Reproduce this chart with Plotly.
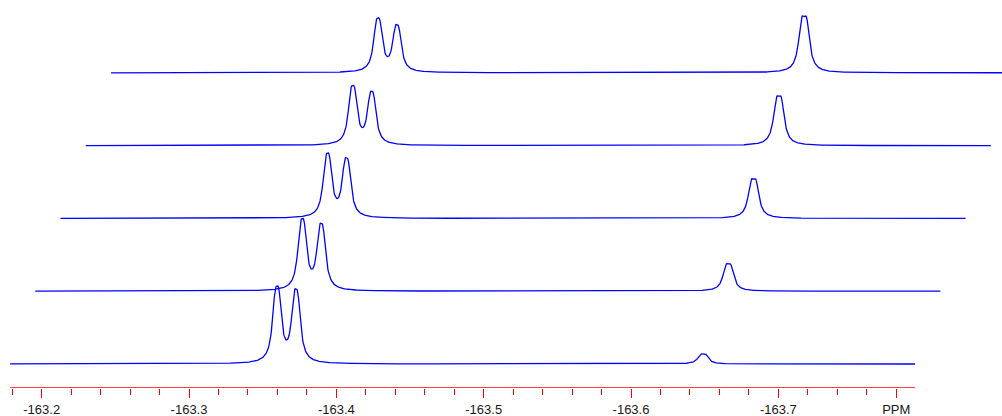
import numpy as np
import plotly.graph_objects as go

# ---- data ----
spectrum_start_ppm = -163.1785
spectrum_end_ppm = -163.7928

doublet_a_ppm = -163.3597
doublet_b_ppm = -163.3726
singlet_ppm = -163.6489

doublet_a_height = [75, 70, 63, 58, 53]
doublet_b_height = [72, 65, 58, 52, 46]
singlet_height = [10, 27, 39, 49, 56]

line_halfwidth = 0.0023
line_split = 0.0026
singlet_halfwidth = 0.0025
singlet_split = 0.0034

major_ticks = [-163.2, -163.3, -163.4, -163.5, -163.6, -163.7, -163.78]
major_labels = ["-163.2", "-163.3", "-163.4", "-163.5", "-163.6", "-163.7", "PPM"]
minor_ticks = [-163.18, -163.22, -163.24, -163.26, -163.28,
               -163.32, -163.34, -163.36, -163.38,
               -163.42, -163.44, -163.46, -163.48,
               -163.52, -163.54, -163.56, -163.58,
               -163.62, -163.64, -163.66, -163.68,
               -163.72, -163.74, -163.76]

# ---- styling / stacking offsets ----
stack_dx = 0.01714
stack_dy = 72.8
base_y = 24


def lorentz(x, c, g):
    return 1.0 / (1.0 + ((x - c) / g) ** 2)


def multiplet(x, c, split, g):
    s = lorentz(x, c - split / 2, g) + lorentz(x, c + split / 2, g)
    peak = 1.0 + lorentz(c + split / 2, c - split / 2, g)
    peak = max(peak, 2 * lorentz(c, c - split / 2, g))
    return s / peak


x = np.linspace(spectrum_start_ppm, spectrum_end_ppm, 2200)
shape_a = multiplet(x, doublet_a_ppm, line_split, line_halfwidth)
shape_b = multiplet(x, doublet_b_ppm, line_split, line_halfwidth)
shape_s = multiplet(x, singlet_ppm, singlet_split, singlet_halfwidth)

fig = go.Figure()
for i in range(len(doublet_a_height)):
    y = (doublet_a_height[i] * shape_a
         + doublet_b_height[i] * shape_b
         + singlet_height[i] * shape_s)
    fig.add_trace(go.Scatter(
        x=x - i * stack_dx, y=y + base_y + i * stack_dy,
        mode="lines", line=dict(color="#0000ff", width=1.3),
        hoverinfo="skip", showlegend=False))

fig.add_shape(type="line", xref="x", yref="y",
              x0=spectrum_start_ppm, x1=spectrum_end_ppm, y0=0, y1=0,
              line=dict(color="#ff0000", width=1.5), layer="above")

fig.update_layout(
    width=1002, height=416,
    margin=dict(l=0, r=0, t=0, b=28),
    paper_bgcolor="white", plot_bgcolor="white",
    font=dict(family="Liberation Sans, Arial, sans-serif", size=13, color="#1a1a1a"),
    xaxis=dict(range=[-163.1717, -163.8518], showgrid=False, zeroline=False,
               showline=False, ticks="outside", ticklen=9, tickwidth=1,
               tickcolor="#ff0000", tickmode="array", tickvals=major_ticks,
               ticktext=major_labels,
               minor=dict(tickmode="array", tickvals=minor_ticks, ticks="outside",
                          ticklen=6, tickwidth=1, tickcolor="#ff0000", showgrid=False)),
    yaxis=dict(range=[0, 388], visible=False),
)

fig.write_html("out.html", config={"displayModeBar": False},
               post_script="document.body.style.margin='0';")
